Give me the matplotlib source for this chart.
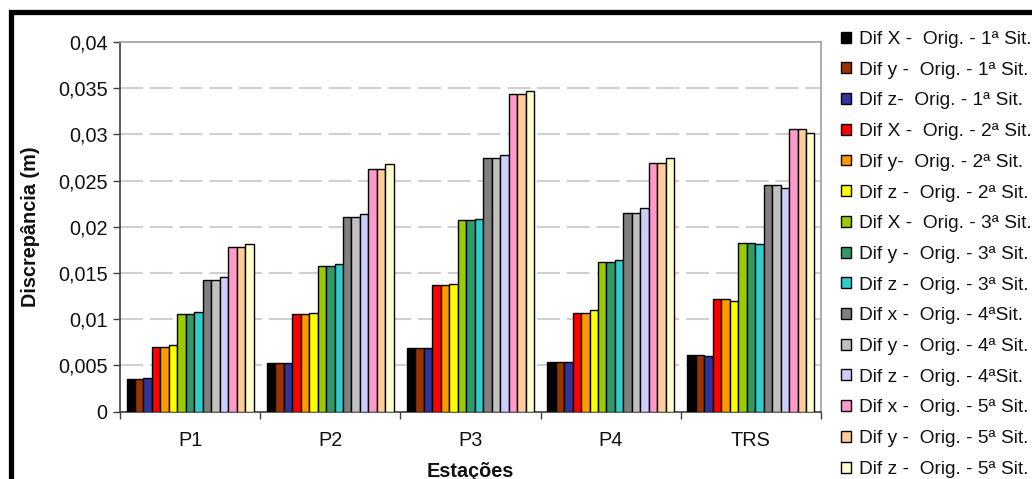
import matplotlib
matplotlib.use("Agg")
import matplotlib.pyplot as plt
import numpy as np
from matplotlib.patches import Patch, Rectangle
from matplotlib.ticker import FixedLocator, FuncFormatter

plt.rcParams["font.family"] = ["Liberation Sans", "DejaVu Sans"]

# Stations on the x axis
stations = ["P1", "P2", "P3", "P4", "TRS"]

# Series labels (one bar per series inside each station group)
series_labels = [
    "Dif X -  Orig. - 1ª Sit.",
    "Dif y -  Orig. - 1ª Sit.",
    "Dif z-  Orig. - 1ª Sit.",
    "Dif X -  Orig. - 2ª Sit.",
    "Dif y-  Orig. - 2ª Sit.",
    "Dif z -  Orig. - 2ª Sit.",
    "Dif X -  Orig. - 3ª Sit.",
    "Dif y -  Orig. - 3ª Sit.",
    "Dif z -  Orig. - 3ª Sit.",
    "Dif x -  Orig. - 4ªSit.",
    "Dif y -  Orig. - 4ª Sit.",
    "Dif z -  Orig. - 4ªSit.",
    "Dif x -  Orig. - 5ª Sit.",
    "Dif y -  Orig. - 5ª Sit.",
    "Dif z -  Orig. - 5ª Sit.",
]

series_colors = [
    "#000000", "#993300", "#333399",
    "#FF0000", "#FF9900", "#FFFF00",
    "#99CC00", "#339966", "#33CCCC",
    "#808080", "#C0C0C0", "#CCCCFF",
    "#FF99CC", "#FFCC99", "#FFFFCC",
]

# Discrepancies (m) per station, in series order
p1 = [0.0035, 0.0035, 0.0037, 0.0070, 0.0070, 0.0072, 0.0106, 0.0106, 0.0108,
      0.0142, 0.0142, 0.0146, 0.0178, 0.0178, 0.0181]
p2 = [0.0053, 0.0053, 0.0053, 0.0106, 0.0106, 0.0107, 0.0158, 0.0158, 0.0160,
      0.0211, 0.0211, 0.0214, 0.0263, 0.0263, 0.0268]
p3 = [0.0069, 0.0069, 0.0069, 0.0137, 0.0137, 0.0138, 0.0207, 0.0207, 0.0208,
      0.0275, 0.0275, 0.0278, 0.0344, 0.0344, 0.0347]
p4 = [0.0054, 0.0054, 0.0054, 0.0107, 0.0107, 0.0110, 0.0162, 0.0162, 0.0164,
      0.0215, 0.0215, 0.0220, 0.0269, 0.0269, 0.0275]
trs = [0.0061, 0.0061, 0.0060, 0.0122, 0.0122, 0.0120, 0.0183, 0.0183, 0.0181,
       0.0245, 0.0245, 0.0242, 0.0306, 0.0306, 0.0302]

station_values = np.array([p1, p2, p3, p4, trs])  # shape (stations, series)

W, H = 1032, 479
fig = plt.figure(figsize=(W / 100, H / 100), dpi=100)
fig.patch.set_facecolor("white")

# Plot area placed in pixel terms
left, right, top, bottom = 120, 821, 42, 411.7
ax = fig.add_axes([left / W, (H - bottom) / H, (right - left) / W, (bottom - top) / H])

n_series = len(series_labels)
group_width = 0.907
bar_w = group_width / n_series
x = np.arange(len(stations))
for i in range(n_series):
    offs = -group_width / 2 + bar_w * (i + 0.5)
    ax.bar(x + offs, station_values[:, i], width=bar_w, color=series_colors[i],
           edgecolor="black", linewidth=1.0, zorder=3)

ax.set_xlim(-0.5, len(stations) - 0.5)
ax.set_ylim(0, 0.04)

# y axis: Excel-like comma decimals
ax.yaxis.set_major_locator(FixedLocator(np.arange(0, 0.0401, 0.005)))

def comma_fmt(v, pos):
    s = f"{v:.3f}".rstrip("0").rstrip(".")
    return s.replace(".", ",")

FS = 14.3
ax.yaxis.set_major_formatter(FuncFormatter(comma_fmt))
ax.tick_params(axis="y", direction="out", length=5, width=1, color="#404040",
               labelsize=FS, pad=4, labelcolor="#111111")

# x axis: ticks between groups, labels at group centres
ax.xaxis.set_major_locator(FixedLocator(np.arange(-0.5, len(stations), 1.0)))
ax.xaxis.set_major_formatter(FuncFormatter(lambda v, p: ""))
ax.xaxis.set_minor_locator(FixedLocator(x))
ax.set_xticklabels(stations, minor=True)
ax.tick_params(axis="x", which="major", direction="out", length=5, width=1, color="#404040")
ax.tick_params(axis="x", which="minor", length=0, labelsize=FS, pad=14, labelcolor="#111111")

# dashed horizontal grid
for yv in np.arange(0.005, 0.0351, 0.005):
    ax.axhline(yv, color="#d0d0d0", linewidth=1.5, linestyle=(0, (11, 3.3)), zorder=1)

for side in ["top", "right"]:
    ax.spines[side].set_color("#a0a0a0")
    ax.spines[side].set_linewidth(1.2)
for side in ["left", "bottom"]:
    ax.spines[side].set_color("#404040")
    ax.spines[side].set_linewidth(1.2)

ax.set_ylabel("Discrepância (m)", fontsize=FS, fontweight="bold", color="#111111")
ax.yaxis.set_label_coords(-0.128, 0.5)
ax.yaxis.label.set_va("center")
ax.set_xlabel("Estações", fontsize=FS, fontweight="bold", color="#111111")
ax.xaxis.set_label_coords(0.5, -0.163)
ax.xaxis.label.set_va("center")

# Legend on the right
handles = [Patch(facecolor=c, edgecolor="black", linewidth=1.0) for c in series_colors]
fig.legend(handles, series_labels, loc="upper left",
           bbox_to_anchor=(841 / W, 1 - 31 / H), frameon=False,
           fontsize=13.8, handlelength=0.5, handleheight=0.5, handletextpad=0.45,
           labelspacing=0.715, borderaxespad=0, borderpad=0, labelcolor="#111111")

# Thick black frame around the figure (open at right and bottom)
frame = Rectangle((10.5 / W, -0.2), 1.2, 1.2 - 11.5 / H, transform=fig.transFigure,
                  fill=False, edgecolor="black", linewidth=3.8, clip_on=False)
fig.patches.append(frame)

fig.savefig("out.png", dpi=100)
